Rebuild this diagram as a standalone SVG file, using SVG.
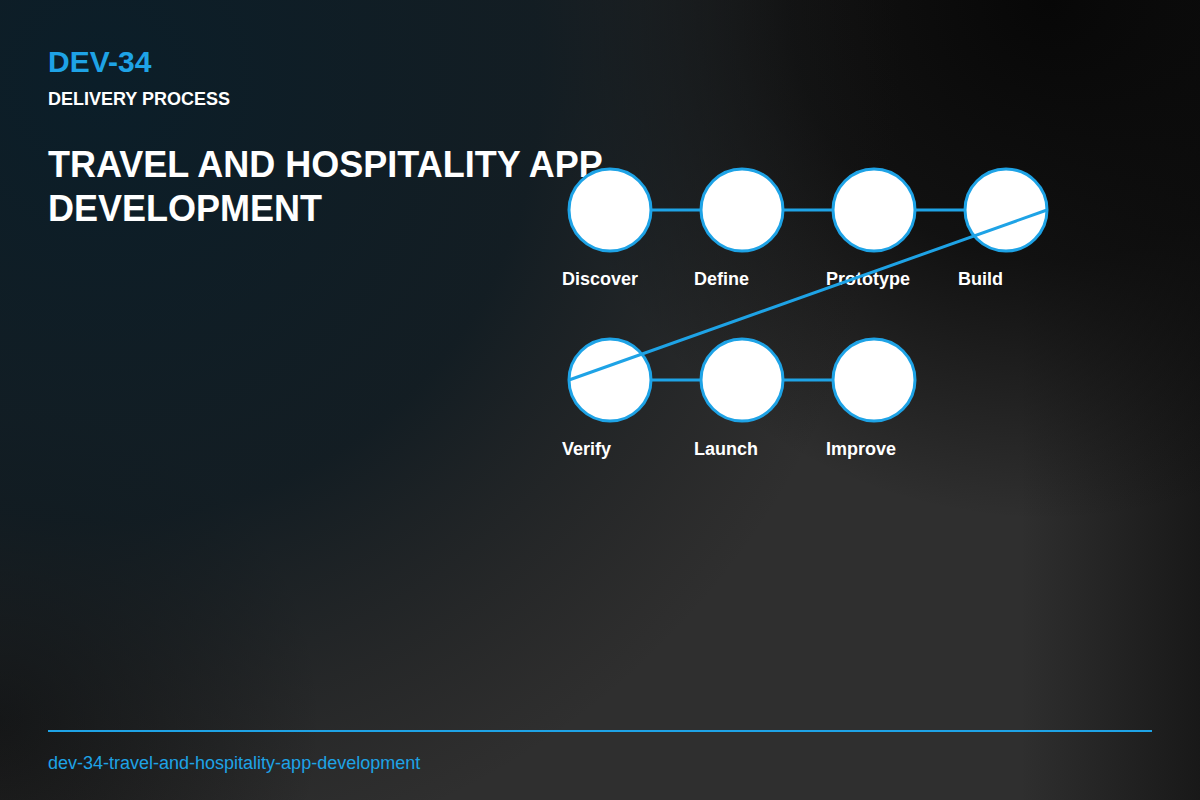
<svg xmlns="http://www.w3.org/2000/svg" width="1200" height="800" viewBox="0 0 1200 800">
<defs>
<radialGradient id="tl" gradientUnits="userSpaceOnUse" cx="100" cy="80" r="800">
<stop offset="0" stop-color="#0b1e29" stop-opacity="1"/>
<stop offset="0.55" stop-color="#0e1a21" stop-opacity="0.85"/>
<stop offset="1" stop-color="#1a1a1a" stop-opacity="0"/>
</radialGradient>
<radialGradient id="tr" gradientUnits="userSpaceOnUse" cx="1050" cy="0" r="520">
<stop offset="0" stop-color="#070707" stop-opacity="1"/>
<stop offset="0.5" stop-color="#0a0a0a" stop-opacity="0.8"/>
<stop offset="1" stop-color="#0a0a0a" stop-opacity="0"/>
</radialGradient>
<radialGradient id="bl" gradientUnits="userSpaceOnUse" cx="0" cy="720" r="320">
<stop offset="0" stop-color="#121212" stop-opacity="0.9"/>
<stop offset="1" stop-color="#121212" stop-opacity="0"/>
</radialGradient>
<linearGradient id="re" gradientUnits="userSpaceOnUse" x1="1200" y1="0" x2="1020" y2="0">
<stop offset="0" stop-color="#111111" stop-opacity="0.75"/>
<stop offset="1" stop-color="#111111" stop-opacity="0"/>
</linearGradient>
<style>
.node{fill:#ffffff;stroke:#1ea3e6;stroke-width:3}
.lbl{font-family:"Liberation Sans",Arial,sans-serif;font-weight:bold;font-size:18px;fill:#ffffff}
.conn{stroke:#1ea3e6;stroke-width:3;fill:none}
</style>
</defs>
<rect width="1200" height="800" fill="#2f2f2f"/>
<rect width="1200" height="800" fill="url(#re)"/>
<rect width="1200" height="800" fill="url(#bl)"/>
<rect width="1200" height="800" fill="url(#tr)"/>
<rect width="1200" height="800" fill="url(#tl)"/>

<g id="header" font-family="Liberation Sans,Arial,sans-serif" font-weight="bold">
<text x="48" y="72" font-size="30" fill="#1ea3e6">DEV-34</text>
<text x="48" y="105" font-size="18" fill="#ffffff">DELIVERY PROCESS</text>
<text x="48" y="177" font-size="36" fill="#ffffff">TRAVEL AND HOSPITALITY APP</text>
<text x="48" y="221" font-size="36" fill="#ffffff">DEVELOPMENT</text>
</g>

<g id="node-discover"><circle class="node" cx="610" cy="210" r="41"/><text class="lbl" x="562" y="285">Discover</text></g>
<g id="node-define"><circle class="node" cx="742" cy="210" r="41"/><text class="lbl" x="694" y="285">Define</text></g>
<g id="node-prototype"><circle class="node" cx="874" cy="210" r="41"/><text class="lbl" x="826" y="285">Prototype</text></g>
<g id="node-build"><circle class="node" cx="1006" cy="210" r="41"/><text class="lbl" x="958" y="285">Build</text></g>
<g id="node-verify"><circle class="node" cx="610" cy="380" r="41"/><text class="lbl" x="562" y="455">Verify</text></g>
<g id="node-launch"><circle class="node" cx="742" cy="380" r="41"/><text class="lbl" x="694" y="455">Launch</text></g>
<g id="node-improve"><circle class="node" cx="874" cy="380" r="41"/><text class="lbl" x="826" y="455">Improve</text></g>

<g id="connectors">
<line class="conn" x1="651" y1="210" x2="701" y2="210"/>
<line class="conn" x1="783" y1="210" x2="833" y2="210"/>
<line class="conn" x1="915" y1="210" x2="965" y2="210"/>
<line class="conn" x1="1047" y1="210" x2="569" y2="380" stroke-width="2"/>
<line class="conn" x1="651" y1="380" x2="701" y2="380"/>
<line class="conn" x1="783" y1="380" x2="833" y2="380"/>
</g>

<g id="footer">
<line x1="48" y1="731" x2="1152" y2="731" stroke="#1ea3e6" stroke-width="2"/>
<text x="48" y="769" font-family="Liberation Sans,Arial,sans-serif" font-size="18" fill="#1ea3e6">dev-34-travel-and-hospitality-app-development</text>
</g>
</svg>
